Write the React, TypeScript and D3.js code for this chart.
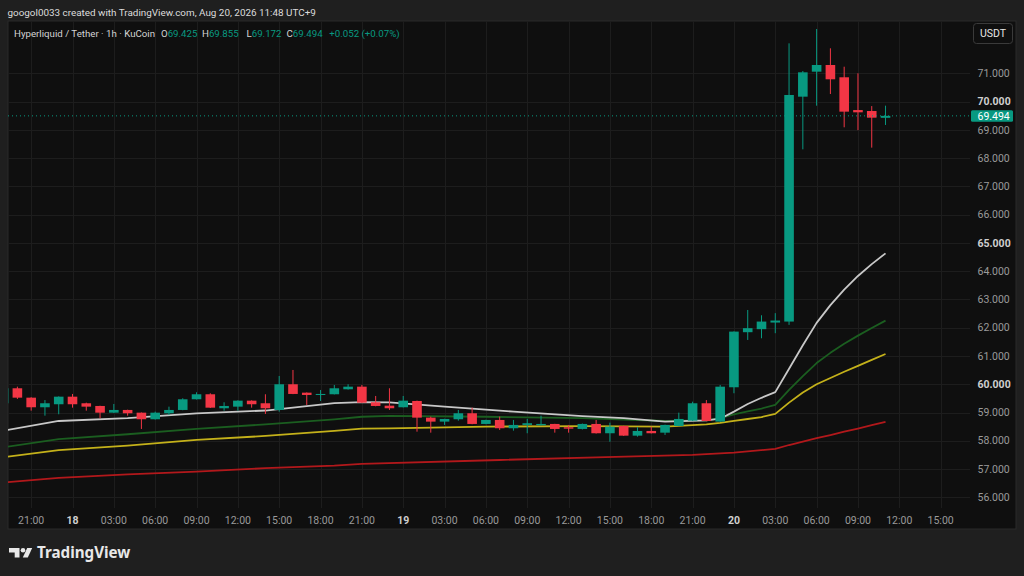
import React from "react";
import * as d3 from "d3";

// ---- DATA (hours relative to Aug 18 00:00, 1h candles) ----
const hours = d3.range(-5, 60);
const opens = [59.327, 59.857, 59.525, 59.185, 59.292, 59.56, 59.327, 59.231, 58.994, 59.09, 58.994, 58.761, 58.973, 59.09, 59.468, 59.645, 59.15, 59.207, 59.419, 59.327, 59.09, 59.999, 59.702, 59.62, 59.645, 59.822, 59.914, 59.362, 59.242, 59.185, 59.408, 58.818, 58.677, 58.761, 58.973, 58.595, 58.736, 58.443, 58.56, 58.549, 58.595, 58.478, 58.418, 58.595, 58.266, 58.524, 58.181, 58.347, 58.287, 58.524, 58.711, 59.327, 58.677, 59.893, 61.841, 61.948, 62.182, 62.217, 70.173, 71.057, 71.294, 70.859, 69.7, 69.666, 69.425];
const highs = [59.94, 59.914, 59.54, 59.44, 59.57, 59.656, 59.348, 59.24, 59.302, 59.1, 59.0, 59.03, 59.207, 59.504, 59.716, 59.68, 59.362, 59.43, 59.43, 59.645, 60.292, 60.505, 59.71, 59.797, 59.974, 59.999, 59.974, 59.585, 59.857, 59.585, 59.42, 58.853, 58.78, 59.09, 59.171, 58.745, 58.853, 58.736, 58.772, 58.888, 58.6, 58.56, 58.61, 58.736, 58.641, 58.53, 58.478, 58.5, 58.57, 58.994, 59.383, 59.44, 59.974, 61.87, 62.627, 62.44, 62.514, 72.06, 71.08, 72.567, 71.884, 71.233, 71.0, 69.84, 69.855];
const lows = [59.27, 59.479, 59.065, 58.888, 58.938, 59.171, 59.065, 58.796, 58.98, 58.888, 58.418, 58.75, 58.913, 59.08, 59.46, 59.16, 59.065, 59.065, 59.171, 58.948, 59.03, 59.65, 59.267, 59.408, 59.64, 59.81, 59.34, 59.22, 59.09, 59.18, 58.322, 58.287, 58.561, 58.711, 58.585, 58.585, 58.383, 58.358, 58.266, 58.54, 58.287, 58.287, 58.4, 58.255, 57.965, 58.17, 58.146, 58.26, 58.206, 58.52, 58.7, 58.69, 58.67, 59.681, 61.566, 61.626, 61.805, 62.1, 68.31, 69.854, 70.268, 69.09, 68.99, 68.37, 69.172];
const closes = [59.857, 59.525, 59.185, 59.327, 59.56, 59.292, 59.207, 58.994, 59.09, 58.973, 58.761, 58.994, 59.09, 59.468, 59.645, 59.171, 59.231, 59.419, 59.292, 59.15, 59.999, 59.656, 59.62, 59.656, 59.857, 59.914, 59.348, 59.231, 59.15, 59.419, 58.818, 58.677, 58.772, 58.973, 58.595, 58.736, 58.443, 58.56, 58.62, 58.595, 58.418, 58.428, 58.595, 58.266, 58.5, 58.181, 58.347, 58.266, 58.56, 58.772, 59.327, 58.7, 59.914, 61.862, 61.983, 62.217, 62.253, 70.233, 71.035, 71.294, 70.788, 69.643, 69.62, 69.43, 69.494];

// moving averages, [hour, value]
const maWhite: [number, number][] = [[-5, 58.36], [-1, 58.7], [4, 58.8], [9, 58.97], [14, 59.07], [19, 59.33], [21, 59.37], [23, 59.36], [27, 59.21], [32, 59.03], [37, 58.87], [40, 58.8], [43, 58.68], [46, 58.72], [47, 58.78], [48, 59.03], [49, 59.3], [50, 59.52], [51, 59.72], [52, 60.55], [53, 61.38], [54, 62.17], [55, 62.8], [56, 63.35], [57, 63.83], [58, 64.25], [59, 64.63]];
const maGreen: [number, number][] = [[-5, 57.77], [-1, 58.06], [4, 58.23], [9, 58.42], [14, 58.58], [19, 58.76], [21, 58.85], [23, 58.88], [30, 58.85], [37, 58.8], [43, 58.7], [46, 58.72], [47, 58.8], [48, 58.93], [49, 59.04], [50, 59.14], [51, 59.27], [52, 59.8], [53, 60.29], [54, 60.75], [55, 61.11], [56, 61.43], [57, 61.72], [58, 61.99], [59, 62.25]];
const maYellow: [number, number][] = [[-5, 57.42], [-1, 57.67], [4, 57.83], [9, 58.03], [14, 58.17], [19, 58.35], [21, 58.43], [23, 58.44], [30, 58.5], [37, 58.52], [43, 58.5], [46, 58.58], [47, 58.63], [48, 58.7], [49, 58.77], [50, 58.84], [51, 58.95], [52, 59.35], [53, 59.71], [54, 60.0], [55, 60.22], [56, 60.44], [57, 60.65], [58, 60.86], [59, 61.07]];
const maRed: [number, number][] = [[-5, 56.52], [-1, 56.69], [4, 56.81], [9, 56.91], [14, 57.03], [19, 57.12], [21, 57.18], [31, 57.32], [38, 57.41], [45, 57.5], [48, 57.58], [51, 57.71], [52, 57.85], [53, 57.97], [54, 58.09], [55, 58.2], [56, 58.32], [57, 58.43], [58, 58.55], [59, 58.665]];

const timeTicks = [-3, 0, 3, 6, 9, 12, 15, 18, 21, 24, 27, 30, 33, 36, 39, 42, 45, 48, 51, 54, 57, 60, 63];
const timeLabels = ["21:00", "18", "03:00", "06:00", "09:00", "12:00", "15:00", "18:00", "21:00", "19", "03:00", "06:00", "09:00", "12:00", "15:00", "18:00", "21:00", "20", "03:00", "06:00", "09:00", "12:00", "15:00"];
const priceTicks = [56, 57, 58, 59, 60, 61, 62, 63, 64, 65, 66, 67, 68, 69, 70, 71];
const boldPrices = [60, 65, 70];

const lastPrice = 69.494;

const W = 1024, H = 576;
const panel = { x: 8, y: 21, r: 1016, b: 529 };
const plot = { l: 8, r: 970, t: 21, b: 508 };

const UP = "#089981";
const DOWN = "#f23645";
const FONT = "Roboto, 'Noto Sans', sans-serif";

export default function App() {
  const x = d3.scaleLinear().domain([0, 59]).range([72.5, 72.5 + 59 * 13.78]);
  const y = d3.scaleLinear().domain([56, 71]).range([497.3, 73.3]);
  const bw = 9.6;

  const line = d3
    .line<[number, number]>()
    .x((d) => x(d[0]))
    .y((d) => y(d[1]));

  const mas = [
    { data: maRed, color: "#b2181b" },
    { data: maYellow, color: "#c4b11a" },
    { data: maGreen, color: "#1b5e20" },
    { data: maWhite, color: "#c8c8c8" },
  ];

  const fmt = d3.format(".3f");

  return (
    <svg
      width={W}
      height={H}
      style={{ position: "absolute", left: 0, top: 0, display: "block" }}
      fontFamily={FONT}
    >
      <defs>
        <clipPath id="plotclip">
          <rect x={plot.l} y={plot.t} width={plot.r - plot.l} height={plot.b - plot.t} />
        </clipPath>
      </defs>
      <rect x={0} y={0} width={W} height={H} fill="#1f1f1f" />
      <text x={7.5} y={16} fontSize={9.9} fill="#dcdcdc">
        googol0033 created with TradingView.com, Aug 20, 2026 11:48 UTC+9
      </text>

      {/* panel */}
      <rect x={panel.x} y={panel.y} width={panel.r - panel.x} height={panel.b - panel.y} fill="#0f0f0f" stroke="#2b2b2b" strokeWidth={1} />

      {/* grid */}
      <g stroke="#1d1d1d" strokeWidth={1}>
        {priceTicks.map((p) => (
          <line key={"h" + p} x1={plot.l} x2={plot.r} y1={Math.round(y(p)) + 0.5} y2={Math.round(y(p)) + 0.5} />
        ))}
        {timeTicks.map((t) => (
          <line key={"v" + t} x1={Math.round(x(t)) + 0.5} x2={Math.round(x(t)) + 0.5} y1={plot.t} y2={plot.b} />
        ))}
      </g>

      <g clipPath="url(#plotclip)">
        {/* moving averages */}
        {mas.map((m, i) => (
          <path key={i} d={line(m.data) || ""} fill="none" stroke={m.color} strokeWidth={1.8} strokeLinejoin="round" />
        ))}
        {/* candles */}
        {hours.map((t, i) => {
          const o = opens[i], c = closes[i], h = highs[i], l = lows[i];
          const col = c >= o ? UP : DOWN;
          const cx = x(t);
          const top = y(Math.max(o, c));
          const bot = y(Math.min(o, c));
          return (
            <g key={t}>
              <line x1={cx} x2={cx} y1={y(h)} y2={y(l)} stroke={col} strokeWidth={1} />
              <rect x={cx - bw / 2} y={top} width={bw} height={Math.max(1, bot - top)} fill={col} />
            </g>
          );
        })}
        {/* last price line */}
        <line x1={plot.l} x2={plot.r} y1={y(lastPrice)} y2={y(lastPrice)} stroke={UP} strokeWidth={1} strokeDasharray="1,3" />
      </g>

      {/* price axis */}
      {priceTicks.map((p) => (
        <text
          key={"pl" + p}
          x={977.5}
          y={y(p) + 3.7}
          fontSize={10.5}
          fill={boldPrices.includes(p) ? "#d0d0d0" : "#9a9a9a"}
          fontWeight={boldPrices.includes(p) ? 700 : 400}
        >
          {fmt(p)}
        </text>
      ))}
      <rect x={971} y={y(lastPrice) - 5.5} width={42} height={11.5} fill={UP} rx={1.5} />
      <text x={977.5} y={y(lastPrice) + 3.7} fontSize={10.5} fill="#ffffff">
        {fmt(lastPrice)}
      </text>

      {/* USDT button */}
      <rect x={973.5} y={23.5} width={39} height={20} rx={3} fill="#0f0f0f" stroke="#3a3a3a" />
      <text x={993} y={37.2} fontSize={10.5} fill="#e6e6e6" textAnchor="middle">
        USDT
      </text>

      {/* time axis */}
      {timeTicks.map((t, i) => {
        const bold = !timeLabels[i].includes(":");
        return (
          <text
            key={"tl" + t}
            x={x(t)}
            y={523.5}
            fontSize={10.5}
            textAnchor="middle"
            fill={bold ? "#d0d0d0" : "#9a9a9a"}
            fontWeight={bold ? 700 : 400}
          >
            {timeLabels[i]}
          </text>
        );
      })}

      {/* legend */}
      <g fontSize={9.7}>
        <text x={14} y={36.5} fill="#d4d4d4">Hyperliquid / Tether · 1h · KuCoin</text>
        <text x={161} y={36.5} fill="#d4d4d4">O<tspan fill={UP}>69.425</tspan></text>
        <text x={202} y={36.5} fill="#d4d4d4">H<tspan fill={UP}>69.855</tspan></text>
        <text x={246.5} y={36.5} fill="#d4d4d4">L<tspan fill={UP}>69.172</tspan></text>
        <text x={286.5} y={36.5} fill="#d4d4d4">C<tspan fill={UP}>69.494</tspan></text>
        <text x={329.3} y={36.5} fill={UP}>+0.052 (+0.07%)</text>
      </g>

      {/* footer logo */}
      <g fill="#e8e8e8">
        <path d="M9,548 h10.5 v9.6 h-4.8 v-5.2 h-5.7 z" />
        <circle cx={23} cy={550.3} r={2.3} />
        <path d="M27.2,548 h5 l-4.4,9.6 h-5 z" />
        <text x={37} y={558} fontSize={15.2} fontWeight={700} fontFamily="'Noto Sans', Roboto, sans-serif" fill="#e8e8e8">
          TradingView
        </text>
      </g>
    </svg>
  );
}
